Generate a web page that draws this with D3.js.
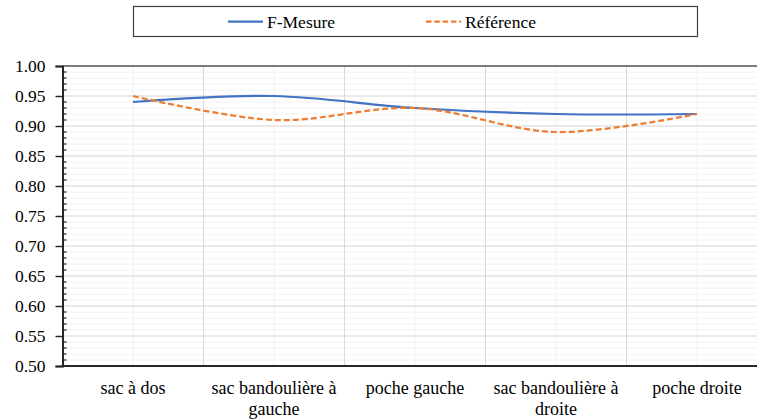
<!DOCTYPE html>
<html><head><meta charset="utf-8">
<script src="https://cdn.jsdelivr.net/npm/d3@7"></script>
<style>body{margin:0;background:#fff;} svg{display:block;}</style>
</head><body>
<svg id="chart" width="757" height="419" font-family="Liberation Serif, DejaVu Serif, Noto Serif, serif"></svg>
<script>
const categories = [["sac à dos"], ["sac bandoulière à", "gauche"], ["poche gauche"], ["sac bandoulière à", "droite"], ["poche droite"]];
const categoryKeys = ["sac à dos", "sac bandoulière à gauche", "poche gauche", "sac bandoulière à droite", "poche droite"];
const fMesure = [0.94, 0.95, 0.93, 0.92, 0.92];
const reference = [0.95, 0.91, 0.93, 0.89, 0.92];
const seriesNames = ["F-Mesure", "Référence"];
const yTicks = [0.50, 0.55, 0.60, 0.65, 0.70, 0.75, 0.80, 0.85, 0.90, 0.95, 1.00];
const yMinor = d3.range(50, 101).map(v => v / 100);

(function () {
const svg = d3.select("#chart");
const pL = 62.5, pR = 767.5, pT = 66, pB = 366;

const x = d3.scaleBand().domain(categoryKeys).range([pL, pR]);
const y = d3.scaleLinear().domain([0.5, 1.0]).range([pB, pT]);

const g = svg.append("g");
g.selectAll(".hmin").data(yMinor).join("line")
  .attr("x1", pL).attr("x2", 757).attr("y1", d => y(d)).attr("y2", d => y(d))
  .attr("stroke", "#f2f2f2").attr("stroke-width", 1);
g.selectAll(".vc").data(categoryKeys).join("line")
  .attr("x1", d => x(d) + x.bandwidth() / 2).attr("x2", d => x(d) + x.bandwidth() / 2)
  .attr("y1", pT).attr("y2", pB).attr("stroke", "#f0f0f0").attr("stroke-width", 1);
g.selectAll(".vb").data(categoryKeys.slice(1)).join("line")
  .attr("x1", d => x(d)).attr("x2", d => x(d))
  .attr("y1", pT).attr("y2", pB).attr("stroke", "#d9d9d9").attr("stroke-width", 1);
g.selectAll(".hmaj").data(yTicks).join("line")
  .attr("x1", pL).attr("x2", 757).attr("y1", d => y(d)).attr("y2", d => y(d))
  .attr("stroke", "#d9d9d9").attr("stroke-width", 1);
svg.append("line").attr("x1", pL).attr("x2", 757).attr("y1", pT).attr("y2", pT)
  .attr("stroke", "#595959").attr("stroke-width", 1.5);

const line = d3.line().x((d, i) => x(categoryKeys[i]) + x.bandwidth() / 2).y(d => y(d))
  .curve(d3.curveCatmullRom.alpha(0));
svg.append("path").datum(fMesure).attr("d", line).attr("fill", "none")
  .attr("stroke", "#4472C4").attr("stroke-width", 2.25);
svg.append("path").datum(reference).attr("d", line).attr("fill", "none")
  .attr("stroke", "#ED7D31").attr("stroke-width", 2.25).attr("stroke-dasharray", "6,3");

const yAxis = svg.append("g").attr("transform", `translate(${pL},0)`)
  .call(d3.axisLeft(y).tickValues(yTicks).tickFormat(d3.format(".2f")).tickSize(7).tickPadding(10));
yAxis.attr("font-family", null).attr("font-size", null);
yAxis.select(".domain").attr("stroke", "#262626").attr("stroke-width", 2);
yAxis.selectAll(".tick line").attr("stroke", "#262626").attr("stroke-width", 1.5);
yAxis.selectAll("text").attr("font-size", 17.5).attr("fill", "#000");
svg.append("g").selectAll("line").data(yMinor.filter(v => Math.round(v * 100) % 5 !== 0)).join("line")
  .attr("x1", pL).attr("x2", pL + 4).attr("y1", d => y(d)).attr("y2", d => y(d))
  .attr("stroke", "#262626").attr("stroke-width", 1.2);

svg.append("line").attr("x1", pL - 1).attr("x2", 757).attr("y1", pB).attr("y2", pB)
  .attr("stroke", "#262626").attr("stroke-width", 2.2);
const xl = svg.append("g").selectAll("text").data(categories).join("text")
  .attr("x", (d, i) => x(categoryKeys[i]) + x.bandwidth() / 2)
  .attr("y", 394).attr("text-anchor", "middle")
  .attr("font-size", 18).attr("fill", "#000");
xl.each(function(d) {
  const t = d3.select(this);
  const cx = t.attr("x");
  d.forEach((s, j) => t.append("tspan").attr("x", cx).attr("dy", j === 0 ? 0 : 21).text(s));
});

svg.append("rect").attr("x", 133.5).attr("y", 6.5).attr("width", 564).attr("height", 30)
  .attr("fill", "#fff").attr("stroke", "#404040").attr("stroke-width", 1.2);
const legendItems = [
  {name: seriesNames[0], color: "#4472C4", dash: null, x: 228},
  {name: seriesNames[1], color: "#ED7D31", dash: "5.5,2.8", x: 426}
];
legendItems.forEach(it => {
  svg.append("line").attr("x1", it.x).attr("x2", it.x + 35).attr("y1", 21.5).attr("y2", 21.5)
    .attr("stroke", it.color).attr("stroke-width", 2.25).attr("stroke-dasharray", it.dash);
  svg.append("text").attr("x", it.x + 39).attr("y", 27.5).text(it.name)
    .attr("font-size", 17.5).attr("fill", "#000");
});
})();
</script>
</body></html>
